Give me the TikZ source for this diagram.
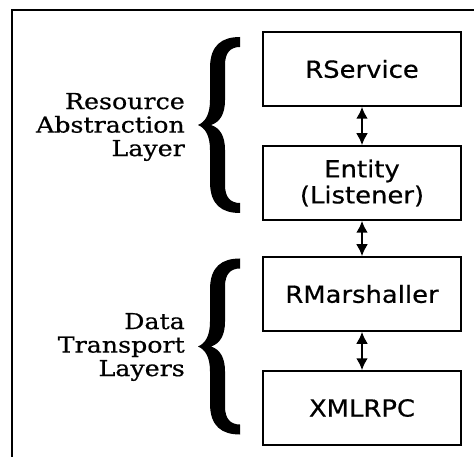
\documentclass[tikz,border=0pt]{standalone}
\usepackage{fontspec}
\setmainfont{DejaVu Serif}
\newfontfamily\labelfont[FakeStretch=1.15,FakeBold=0.6]{DejaVu Serif}
\newfontfamily\boxfont[FakeStretch=1.1,FakeBold=0.5]{DejaVu Sans}
\usetikzlibrary{arrows.meta}

\tikzset{
  layerbox/.style={draw, line width=1.5pt, minimum width=198pt, minimum height=74pt,
    inner sep=0pt, align=center, font=\boxfont\fontsize{23.5pt}{26pt}\selectfont},
  layerlabel/.style={align=right, anchor=east, inner sep=0pt,
    font=\labelfont\fontsize{22pt}{23.5pt}\selectfont},
  link/.style={line width=2.5pt, {Latex[length=12pt,width=12pt]}-{Latex[length=12pt,width=12pt]}},
  frameline/.style={line width=1.5pt},
  bracefill/.style={fill=black, draw=none}
}

\begin{document}
\begin{tikzpicture}[x=1pt, y=-1pt]
  \useasboundingbox (0,0) rectangle (474,457);

  % open frame: top and left edges
  \coordinate (ftl) at (12,10);
  \coordinate (ftr) at (474,10);
  \coordinate (fbl) at (12,457);
  \draw[frameline] (ftr) -- (ftl) -- (fbl);

  % stack of layers
  \node[layerbox] (rs) at (362,69)  {RService};
  \node[layerbox] (en) at (362,183) {Entity\\(Listener)};
  \node[layerbox] (rm) at (362,294) {RMarshaller};
  \node[layerbox] (xr) at (362,408) {XMLRPC};

  \draw[link] (rs) -- (en);
  \draw[link] (en) -- (rm);
  \draw[link] (rm) -- (xr);

  % curly braces grouping the layers
  \foreach \dy in {0,221.5}{
    \begin{scope}[shift={(0,\dy)}]
      \fill[bracefill] (240,37) .. controls (222,37) and (210,45) .. (210,68)
        -- (210,100) .. controls (210,115) and (205,122) .. (198,125)
        .. controls (205,128) and (210,135) .. (210,150)
        -- (210,182) .. controls (210,205) and (222,213) .. (240,213)
        -- (240,203) .. controls (231,203) and (225,198) .. (225,185)
        -- (225,150) .. controls (225,136) and (220,128) .. (211,125)
        .. controls (220,122) and (225,114) .. (225,100)
        -- (225,65) .. controls (225,52) and (231,47) .. (240,47) -- cycle;
    \end{scope}
  }

  % group labels
  \node[layerlabel] (ral) at (185,127) {Resource\\Abstraction\\Layer};
  \node[layerlabel] (dtl) at (185,347) {Data\\Transport\\Layers};
\end{tikzpicture}
\end{document}
